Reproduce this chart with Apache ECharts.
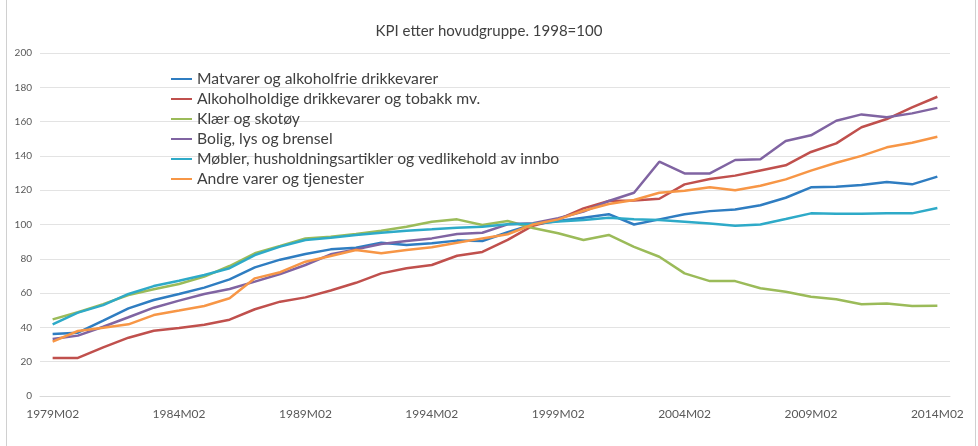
<!DOCTYPE html>
<html>
<head>
<meta charset="utf-8">
<script src="https://cdn.jsdelivr.net/npm/echarts@6/dist/echarts.min.js"></script>
<style>
html,body{margin:0;padding:0;background:#fff;}
#c{width:978px;height:446px;}
</style>
</head>
<body>
<div id="c"></div>
<script>
const categories = [];
const years = [1979,1980,1981,1982,1983,1984,1985,1986,1987,1988,1989,1990,1991,1992,1993,1994,1995,1996,1997,1998,1999,2000,2001,2002,2003,2004,2005,2006,2007,2008,2009,2010,2011,2012,2013,2014];
years.forEach(y => categories.push(y + 'M02'));

const seriesNames = [
  'Matvarer og alkoholfrie drikkevarer',
  'Alkoholholdige drikkevarer og tobakk mv.',
  'Klær og skotøy',
  'Bolig, lys og brensel',
  'Møbler, husholdningsartikler og vedlikehold av innbo',
  'Andre varer og tjenester'
];

const matvarer = [36.2,36.9,43.9,51.1,56.0,59.5,63.2,68.0,75.0,79.5,82.8,85.5,86.5,89.4,88.0,89.0,90.6,90.4,95.5,100.0,102.0,104.0,106.0,100.0,103.0,106.0,107.8,108.8,111.2,115.6,121.7,122.0,123.0,124.8,123.4,127.9];
const alkohol = [22.2,22.2,28.4,34.0,38.0,39.6,41.6,44.5,50.6,55.0,57.5,61.5,66.0,71.5,74.5,76.4,81.8,84.0,91.0,99.3,103.0,109.4,113.7,114.0,115.0,123.4,126.5,128.5,131.5,134.5,142.3,147.3,156.7,161.5,168.3,174.5];
const klaer = [44.7,48.8,53.6,58.9,62.2,65.3,69.6,75.8,83.2,87.5,91.9,92.9,94.5,96.4,98.7,101.6,103.0,99.7,102.0,98.0,94.9,91.0,93.9,87.0,81.2,71.5,67.0,67.0,62.8,60.8,57.9,56.4,53.5,54.0,52.5,52.6];
const bolig = [33.2,35.2,40.4,45.9,51.5,55.6,59.5,62.4,66.7,71.1,76.4,82.6,85.5,88.6,90.4,91.9,94.5,95.2,100.1,100.7,103.6,107.5,113.7,118.5,136.6,129.8,129.8,137.6,138.0,148.7,152.0,160.5,164.2,162.5,164.8,168.0];
const mobler = [41.8,48.6,53.0,59.5,64.1,67.2,70.6,74.5,82.2,87.1,91.0,92.3,93.9,95.2,96.4,97.2,98.1,98.7,100.1,100.5,101.7,102.6,104.0,103.0,102.6,101.6,100.6,99.3,100.0,103.2,106.5,106.3,106.2,106.5,106.5,109.6];
const andre = [31.7,37.9,39.8,41.8,47.2,49.8,52.5,57.0,68.6,72.2,78.3,81.6,85.1,83.2,85.1,86.7,89.4,91.9,94.3,100.0,103.0,108.0,112.0,114.3,118.5,119.7,121.7,120.0,122.6,126.3,131.4,136.0,140.0,145.0,147.7,151.2];

const yTicks = [0,20,40,60,80,100,120,140,160,180,200];

const colors = ['#2f7dc1','#c0504d','#9bbb59','#8064a2','#2eaac8','#f79646'];
const dataSets = [matvarer, alkohol, klaer, bolig, mobler, andre];

const chart = echarts.init(document.getElementById('c'), null, {renderer:'canvas'});
const font = 'Lato, "Open Sans", sans-serif';
chart.setOption({
  animation:false,
  backgroundColor:'#ffffff',
  color: colors,
  textStyle:{fontFamily:font},
  title:{
    text:'KPI etter hovudgruppe. 1998=100',
    left:'center', top:19,
    textStyle:{fontSize:15, fontWeight:'normal', color:'#404040', fontFamily:font}
  },
  legend:{
    orient:'vertical',
    left:166, top:64,
    itemWidth:21, itemHeight:2, itemGap:0,
    icon:'rect',
    textStyle:{fontSize:15.7, color:'#404040', fontFamily:font, lineHeight:20},
    data: seriesNames
  },
  graphic:[
    {type:'line', shape:{x1:6.5,y1:0,x2:6.5,y2:446}, style:{stroke:'#d0d0d0', lineWidth:1}},
    {type:'line', shape:{x1:975.5,y1:0,x2:975.5,y2:446}, style:{stroke:'#d0d0d0', lineWidth:1}}
  ],
  grid:{left:40, right:28, top:53, bottom:50, containLabel:false},
  xAxis:{
    type:'category',
    data: categories,
    boundaryGap:true,
    axisLine:{show:true, lineStyle:{color:'#d9d9d9'}},
    axisTick:{show:false},
    axisLabel:{interval:4, color:'#595959', fontSize:12, margin:12, fontFamily:font}
  },
  yAxis:{
    type:'value',
    min:yTicks[0], max:yTicks[yTicks.length-1], interval:20,
    axisLine:{show:false},
    axisTick:{show:false},
    axisLabel:{color:'#595959', fontSize:10, margin:8, fontFamily:font},
    splitLine:{lineStyle:{color:'#e3e3e3'}}
  },
  series: seriesNames.map((n,i)=>({
    name:n, type:'line', data:dataSets[i],
    showSymbol:false, symbol:'none',
    lineStyle:{width:2.5, color:colors[i]},
    itemStyle:{color:colors[i]}
  }))
});
</script>
</body>
</html>
